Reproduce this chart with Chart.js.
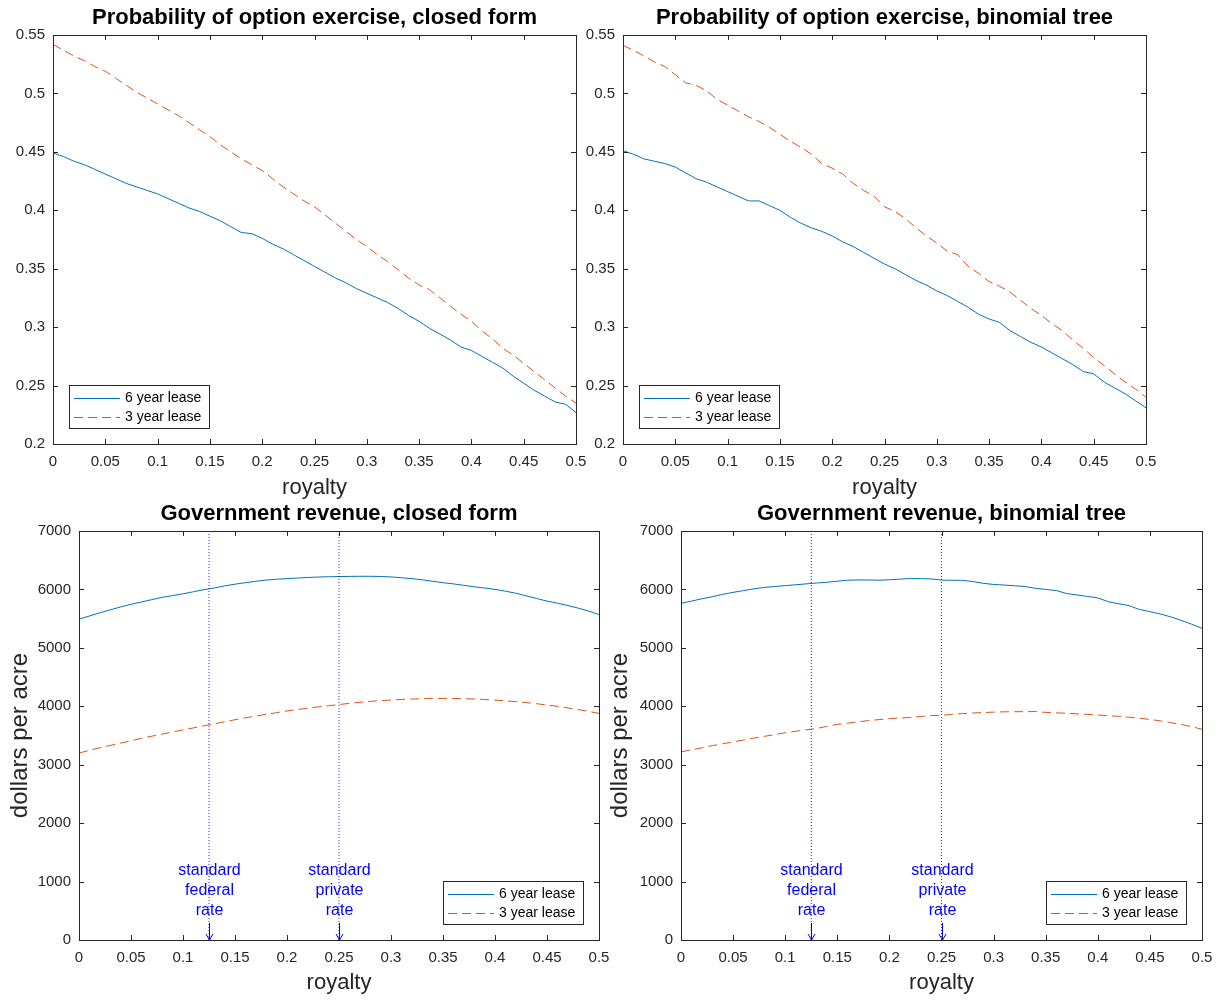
<!DOCTYPE html>
<html>
<head>
<meta charset="utf-8">
<script src="https://cdn.jsdelivr.net/npm/chart.js@4.4.1/dist/chart.umd.min.js"></script>
<style>
  body { margin: 0; background: #fff; width: 1225px; height: 1002px; position: relative; overflow: hidden; }
  canvas { position: absolute; }
</style>
</head>
<body>
<canvas id="probClosed" width="600" height="502" style="left:0px;top:0px"></canvas>
<canvas id="probTree" width="600" height="502" style="left:570px;top:0px"></canvas>
<canvas id="revClosed" width="625" height="505" style="left:0px;top:497px"></canvas>
<canvas id="revTree" width="623" height="505" style="left:602px;top:497px"></canvas>
<script>
var royalty = [0, 0.01, 0.02, 0.03, 0.04, 0.05, 0.06, 0.07, 0.08, 0.09,
  0.1, 0.11, 0.12, 0.13, 0.14, 0.15, 0.16, 0.17, 0.18, 0.19,
  0.2, 0.21, 0.22, 0.23, 0.24, 0.25, 0.26, 0.27, 0.28, 0.29,
  0.3, 0.31, 0.32, 0.33, 0.34, 0.35, 0.36, 0.37, 0.38, 0.39,
  0.4, 0.41, 0.42, 0.43, 0.44, 0.45, 0.46, 0.47, 0.48, 0.49, 0.5];

// probability of exercise, closed form
var probClosed6 = [0.449, 0.446, 0.442, 0.439, 0.435, 0.431, 0.427, 0.423, 0.420, 0.417,
  0.414, 0.410, 0.406, 0.402, 0.399, 0.395, 0.391, 0.386, 0.381, 0.380,
  0.376, 0.371, 0.367, 0.362, 0.357, 0.352, 0.347, 0.342, 0.338, 0.333,
  0.329, 0.325, 0.321, 0.316, 0.310, 0.305, 0.299, 0.294, 0.289, 0.283,
  0.280, 0.275, 0.270, 0.265, 0.258, 0.252, 0.246, 0.241, 0.236, 0.234, 0.227];
var probClosed3 = [0.542, 0.537, 0.532, 0.528, 0.523, 0.519, 0.513, 0.507, 0.501, 0.496,
  0.491, 0.486, 0.481, 0.475, 0.469, 0.463, 0.456, 0.450, 0.444, 0.439,
  0.434, 0.427, 0.420, 0.414, 0.408, 0.403, 0.396, 0.389, 0.382, 0.375,
  0.369, 0.362, 0.356, 0.349, 0.342, 0.336, 0.332, 0.325, 0.318, 0.311,
  0.305, 0.297, 0.290, 0.282, 0.276, 0.269, 0.262, 0.255, 0.248, 0.241, 0.235];

// probability of exercise, binomial tree
var probTree6 = [0.451, 0.448, 0.444, 0.442, 0.440, 0.437, 0.432, 0.427, 0.424, 0.420,
  0.416, 0.412, 0.408, 0.408, 0.404, 0.400, 0.394, 0.389, 0.385, 0.382,
  0.378, 0.373, 0.369, 0.364, 0.359, 0.354, 0.350, 0.345, 0.340, 0.336,
  0.331, 0.327, 0.322, 0.317, 0.311, 0.307, 0.304, 0.297, 0.292, 0.287,
  0.283, 0.278, 0.273, 0.268, 0.262, 0.260, 0.253, 0.248, 0.243, 0.237, 0.231];
var probTree3 = [0.541, 0.537, 0.532, 0.527, 0.523, 0.516, 0.509, 0.507, 0.502, 0.495,
  0.490, 0.485, 0.480, 0.476, 0.471, 0.465, 0.459, 0.454, 0.448, 0.440,
  0.436, 0.431, 0.423, 0.417, 0.412, 0.403, 0.399, 0.393, 0.385, 0.378,
  0.372, 0.365, 0.362, 0.352, 0.346, 0.339, 0.335, 0.330, 0.323, 0.316,
  0.310, 0.303, 0.297, 0.289, 0.282, 0.274, 0.267, 0.260, 0.253, 0.247, 0.240];

// government revenue, closed form
var revClosed6 = [5490, 5545, 5600, 5650, 5700, 5745, 5785, 5825, 5865, 5895,
  5925, 5960, 5995, 6025, 6060, 6090, 6115, 6140, 6160, 6175,
  6185, 6195, 6205, 6212, 6217, 6220, 6223, 6225, 6225, 6222,
  6214, 6200, 6185, 6165, 6140, 6115, 6095, 6070, 6045, 6025,
  6000, 5970, 5935, 5890, 5845, 5800, 5765, 5725, 5680, 5630, 5570];
var revClosed3 = [3200, 3245, 3290, 3330, 3370, 3410, 3450, 3488, 3525, 3560,
  3595, 3630, 3665, 3700, 3735, 3770, 3802, 3833, 3862, 3890,
  3920, 3945, 3968, 3990, 4010, 4030, 4050, 4068, 4084, 4097,
  4108, 4117, 4124, 4130, 4134, 4135, 4134, 4130, 4124, 4116,
  4106, 4094, 4080, 4063, 4044, 4022, 3998, 3972, 3944, 3912, 3878];

// government revenue, binomial tree
var revTree6 = [5760, 5800, 5840, 5875, 5915, 5950, 5980, 6010, 6035, 6050,
  6065, 6080, 6095, 6110, 6123, 6140, 6158, 6162, 6162, 6158,
  6165, 6176, 6186, 6185, 6180, 6160, 6157, 6156, 6135, 6105,
  6085, 6075, 6063, 6050, 6020, 6000, 5982, 5930, 5905, 5880,
  5855, 5790, 5755, 5722, 5656, 5620, 5580, 5530, 5470, 5405, 5335];
var revTree3 = [3220, 3255, 3290, 3325, 3358, 3390, 3422, 3455, 3485, 3515,
  3548, 3572, 3597, 3620, 3655, 3690, 3712, 3733, 3755, 3772,
  3788, 3800, 3808, 3825, 3840, 3845, 3862, 3875, 3885, 3893,
  3900, 3905, 3907, 3908, 3910, 3895, 3888, 3880, 3870, 3862,
  3851, 3840, 3828, 3812, 3795, 3775, 3750, 3720, 3690, 3650, 3608];

var royaltyTicks = [0, 0.05, 0.1, 0.15, 0.2, 0.25, 0.3, 0.35, 0.4, 0.45, 0.5];
var probTicks = [0.2, 0.25, 0.3, 0.35, 0.4, 0.45, 0.5, 0.55];
var revTicks = [0, 1000, 2000, 3000, 4000, 5000, 6000, 7000];

var markerRates = [0.125, 0.25];
var markerLabels = [["standard", "federal", "rate"], ["standard", "private", "rate"]];

var FONT = '"Liberation Sans", Arial, Helvetica, sans-serif';
var AXIS = "#262626";
var BLUE = "#0072BD";
var ORANGE = "#D95319";

Chart.defaults.font.family = FONT;
Chart.defaults.color = AXIS;

function pts(xs, ys) {
  return xs.map(function (x, i) { return { x: x, y: ys[i] }; });
}

// box round the axes, inward ticks, title, legend and notes
function decor(cfg) {
  return {
    id: "decor",
    afterDraw: function (chart) {
      var ctx = chart.ctx;
      var a = chart.chartArea;
      var xs = chart.scales.x, ys = chart.scales.y;
      ctx.save();

      // notes with down arrows at the marker lines
      if (cfg.notes) {
        ctx.fillStyle = "#0000FF";
        ctx.strokeStyle = "#0000FF";
        ctx.lineWidth = 1;
        ctx.font = "16px " + FONT;
        ctx.textAlign = "center";
        ctx.textBaseline = "middle";
        markerRates.forEach(function (r, k) {
          var px = Math.round(xs.getPixelForValue(r)) + 0.5;
          var base = Math.round(ys.getPixelForValue(0));
          var lines = markerLabels[k];
          for (var i = 0; i < lines.length; i++) {
            var off = (lines.length - i) * 20 + 9;
            ctx.fillText(lines[i], px, base - off);
          }
          ctx.beginPath();
          ctx.moveTo(px, base - 17); ctx.lineTo(px, base);
          ctx.moveTo(px - 3.5, base - 6); ctx.lineTo(px, base); ctx.lineTo(px + 3.5, base - 6);
          ctx.stroke();
        });
      }

      // frame and ticks
      ctx.strokeStyle = AXIS;
      ctx.lineWidth = 1;
      ctx.strokeRect(Math.round(a.left) + 0.5, Math.round(a.top) + 0.5,
        Math.round(a.right - a.left), Math.round(a.bottom - a.top));
      ctx.beginPath();
      xs.ticks.forEach(function (t) {
        var px = Math.round(xs.getPixelForValue(t.value)) + 0.5;
        ctx.moveTo(px, a.bottom); ctx.lineTo(px, a.bottom - 5);
        ctx.moveTo(px, a.top); ctx.lineTo(px, a.top + 5);
      });
      ys.ticks.forEach(function (t) {
        var py = Math.round(ys.getPixelForValue(t.value)) + 0.5;
        ctx.moveTo(a.left, py); ctx.lineTo(a.left + 5, py);
        ctx.moveTo(a.right, py); ctx.lineTo(a.right - 5, py);
      });
      ctx.stroke();

      // title
      ctx.fillStyle = "#000";
      ctx.font = "bold 22px " + FONT;
      ctx.textAlign = "center";
      ctx.textBaseline = "middle";
      ctx.fillText(cfg.title, (a.left + a.right) / 2, a.top - 17);

      // legend box
      var w = 140, h = 43;
      var bx = cfg.legend === "sw" ? a.left + 16 : a.right - 16 - w;
      var by = a.bottom - 16 - h;
      bx = Math.round(bx); by = Math.round(by);
      ctx.fillStyle = "#fff";
      ctx.fillRect(bx, by, w, h);
      ctx.strokeStyle = AXIS;
      ctx.setLineDash([]);
      ctx.strokeRect(bx + 0.5, by + 0.5, w, h);
      ctx.font = "14px " + FONT;
      ctx.textAlign = "left";
      ctx.textBaseline = "middle";
      var row = 0;
      chart.data.datasets.forEach(function (d) {
        if (!d.inLegend) return;
        var ry = by + 13 + row * 19 + 0.5;
        ctx.strokeStyle = d.borderColor;
        ctx.lineWidth = 1;
        ctx.setLineDash(d.borderDash || []);
        ctx.beginPath();
        ctx.moveTo(bx + 5, ry); ctx.lineTo(bx + 51, ry);
        ctx.stroke();
        ctx.setLineDash([]);
        ctx.fillStyle = "#000";
        ctx.fillText(d.label, bx + 56, ry);
        row++;
      });
      ctx.restore();
    }
  };
}

function makeChart(id, opts) {
  var datasets = [];
  if (opts.notes) {
    markerRates.forEach(function (r) {
      datasets.push({
        label: "rate " + r,
        data: [{ x: r, y: opts.yTicks[0] }, { x: r, y: opts.yTicks[opts.yTicks.length - 1] }],
        borderColor: "rgba(0,0,255,0.85)",
        borderWidth: 1,
        borderDash: [1, 2],
        pointRadius: 0
      });
    });
  }
  datasets.push({
    label: "6 year lease", inLegend: true,
    data: pts(royalty, opts.six),
    borderColor: BLUE, borderWidth: 1, pointRadius: 0, tension: 0
  });
  datasets.push({
    label: "3 year lease", inLegend: true,
    data: pts(royalty, opts.three),
    borderColor: ORANGE, borderWidth: 1, borderDash: [9, 5], pointRadius: 0, tension: 0
  });

  return new Chart(document.getElementById(id), {
    type: "line",
    data: { datasets: datasets },
    options: {
      responsive: false,
      animation: false,
      events: [],
      layout: { padding: { top: opts.top, right: opts.right, left: 0, bottom: 0 } },
      plugins: { legend: { display: false }, tooltip: { enabled: false }, title: { display: false } },
      scales: {
        x: {
          type: "linear",
          min: 0, max: 0.5,
          grid: { display: false, drawTicks: false },
          border: { display: false },
          afterBuildTicks: function (s) { s.ticks = royaltyTicks.map(function (v) { return { value: v }; }); },
          afterFit: function (s) { s.height = opts.xHeight; },
          ticks: { autoSkip: false, maxRotation: 0, padding: 9, font: { size: 15 }, color: AXIS,
            callback: function (v) { return String(v); } },
          title: { display: true, text: "royalty", font: { size: 22 }, color: AXIS,
            padding: { top: 0, bottom: opts.xTitlePad } }
        },
        y: {
          type: "linear",
          min: opts.yTicks[0], max: opts.yTicks[opts.yTicks.length - 1],
          grid: { display: false, drawTicks: false },
          border: { display: false },
          afterBuildTicks: function (s) { s.ticks = opts.yTicks.map(function (v) { return { value: v }; }); },
          afterFit: function (s) { s.width = opts.yWidth; },
          ticks: { autoSkip: false, padding: 8, font: { size: 15 }, color: AXIS,
            callback: function (v) { return String(v); } },
          title: { display: !!opts.yTitle, text: opts.yTitle || "", font: { size: 24 }, color: AXIS,
            padding: { top: opts.yTitlePad || 0, bottom: 0 } }
        }
      }
    },
    plugins: [decor({ title: opts.title, legend: opts.legend, notes: opts.notes })]
  });
}

makeChart("probClosed", {
  title: "Probability of option exercise, closed form",
  six: probClosed6, three: probClosed3, yTicks: probTicks,
  top: 35, right: 24, yWidth: 53, xHeight: 58, xTitlePad: 1, legend: "sw"
});
makeChart("probTree", {
  title: "Probability of option exercise, binomial tree",
  six: probTree6, three: probTree3, yTicks: probTicks,
  top: 35, right: 24, yWidth: 53, xHeight: 58, xTitlePad: 1, legend: "sw"
});
makeChart("revClosed", {
  title: "Government revenue, closed form",
  six: revClosed6, three: revClosed3, yTicks: revTicks,
  top: 34, right: 26, yWidth: 79, xHeight: 62, xTitlePad: 6, legend: "se",
  yTitle: "dollars per acre", yTitlePad: 6, notes: true
});
makeChart("revTree", {
  title: "Government revenue, binomial tree",
  six: revTree6, three: revTree3, yTicks: revTicks,
  top: 34, right: 23, yWidth: 79, xHeight: 62, xTitlePad: 6, legend: "se",
  yTitle: "dollars per acre", yTitlePad: 4, notes: true
});
</script>
</body>
</html>
